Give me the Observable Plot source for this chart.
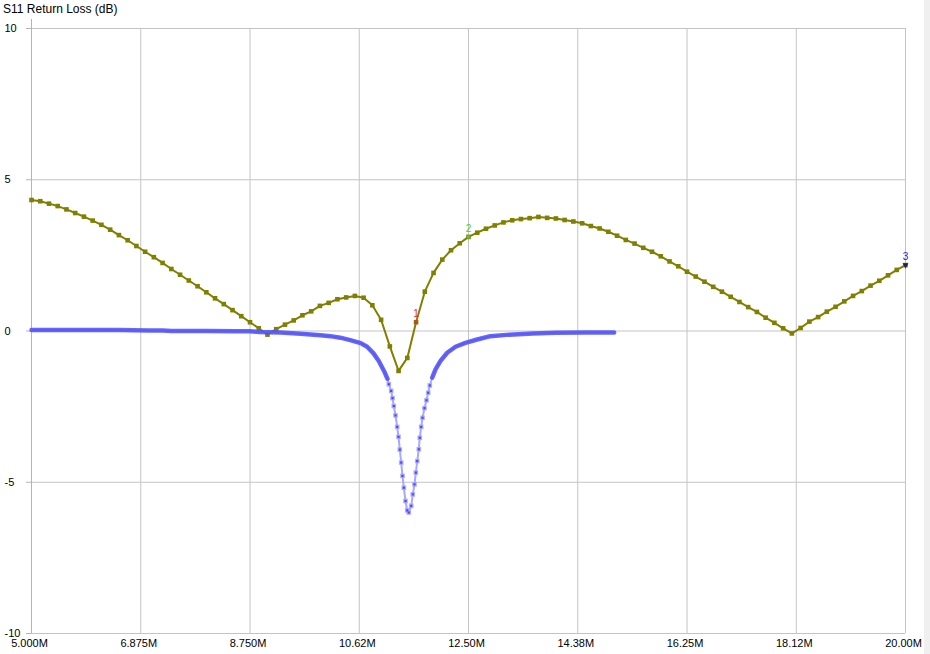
<!DOCTYPE html>
<html><head><meta charset="utf-8">
<script src="https://cdn.jsdelivr.net/npm/d3@7"></script>
<script src="https://cdn.jsdelivr.net/npm/@observablehq/plot@0.6"></script>
<style>
body{margin:0;background:#fff;}
#wrap{position:relative;width:930px;height:654px;overflow:hidden;background:#fff;}
#title{position:absolute;left:3px;top:2px;font:12px "Liberation Sans",Arial,sans-serif;color:#000;z-index:2;}
#strip{position:absolute;left:924px;top:0;width:6px;height:654px;background:#f0f0f0;z-index:2;}
#chart{position:absolute;left:0;top:0;}
</style></head><body>
<div id="wrap"><div id="chart"></div><div id="title">S11 Return Loss (dB)</div><div id="strip"></div></div>
<script>
// Olive trace: 101 sweep points, 5 MHz to 20 MHz in 0.15 MHz steps
const sweepStart = 5, sweepStep = 0.15;
const oliveValues = [
  4.33, 4.29, 4.21, 4.13, 4.02, 3.90, 3.78, 3.65, 3.51, 3.35,
  3.17, 3.00, 2.81, 2.62, 2.44, 2.25, 2.05, 1.86, 1.67, 1.48,
  1.28, 1.08, 0.89, 0.69, 0.49, 0.29, 0.09, -0.12, 0.06, 0.21,
  0.35, 0.52, 0.65, 0.83, 0.93, 1.05, 1.11, 1.16, 1.10, 0.85,
  0.37, -0.51, -1.32, -0.89, 0.29, 1.30, 1.92, 2.36, 2.67, 2.90,
  3.11, 3.25, 3.38, 3.49, 3.59, 3.66, 3.70, 3.73, 3.77, 3.74,
  3.72, 3.67, 3.62, 3.56, 3.47, 3.39, 3.28, 3.15, 3.01, 2.89,
  2.75, 2.62, 2.47, 2.30, 2.14, 1.96, 1.80, 1.63, 1.46, 1.30,
  1.13, 0.96, 0.79, 0.63, 0.44, 0.27, 0.09, -0.08, 0.10, 0.31,
  0.46, 0.64, 0.80, 0.98, 1.16, 1.32, 1.50, 1.66, 1.84, 2.02,
  2.18
];
// Blue trace (MHz, dB)
const blueFreq = [
  5.0, 5.5, 6.0, 6.5, 7.0, 7.25, 7.4, 8.0, 8.5, 8.75, 8.9, 9.27, 9.62, 9.96, 10.13, 10.30,
  10.47, 10.65, 10.76, 10.87, 10.96, 11.05, 11.11,
  11.132, 11.173, 11.196, 11.218, 11.247, 11.276, 11.299, 11.321, 11.345, 11.367, 11.390,
  11.419, 11.448, 11.475, 11.517, 11.544, 11.573, 11.596, 11.620, 11.647, 11.664, 11.688,
  11.711, 11.745, 11.779, 11.808, 11.836, 11.877, 11.934, 12.02, 12.134, 12.277, 12.448,
  12.649, 12.877, 13.2, 13.6, 14.0, 14.5, 15.0
];
const blueValues = [
  0.03, 0.03, 0.03, 0.03, 0.02, 0.02, 0.00, 0.00, -0.01, -0.01, -0.03, -0.05, -0.09, -0.14, -0.17, -0.22,
  -0.30, -0.40, -0.52, -0.74, -0.99, -1.32, -1.58,
  -1.76, -1.98, -2.22, -2.48, -2.79, -3.17, -3.50, -3.92, -4.35, -4.79, -5.18,
  -5.62, -5.93, -6.00, -5.78, -5.40, -5.07, -4.68, -4.30, -3.91, -3.53, -3.17,
  -2.87, -2.55, -2.29, -2.04, -1.80, -1.54, -1.27, -0.99, -0.72, -0.52, -0.39,
  -0.28, -0.17, -0.12, -0.08, -0.06, -0.05, -0.05
];
const xTicks = [5, 6.875, 8.75, 10.625, 12.5, 14.375, 16.25, 18.125, 20];
const xTickLabels = ["5.000M", "6.875M", "8.750M", "10.62M", "12.50M", "14.38M", "16.25M", "18.12M", "20.00M"];
const yTicks = [-10, -5, 0, 5, 10];
const yTickLabels = ["-10", "-5", "0", "5", "10"];
const markerIndex = [44, 50, 100];
const markerNames = ["1", "2", "3"];
const markerColors = ["#e03030", "#40d040", "#2020d0"];

const olive = oliveValues.map((v, i) => ({f: sweepStart + sweepStep * i, v}));
const blue = blueFreq.map((f, i) => ({f, v: blueValues[i]}));
const markers = markerIndex.map((idx, k) => ({f: olive[idx].f, v: olive[idx].v, name: markerNames[k], color: markerColors[k]}));
const yLab = yTicks.map((t, i) => ({t, s: yTickLabels[i]}));
const font = '"Liberation Sans", Arial, sans-serif';
const dip = blue.filter(d => d.v <= -1.6);

const chart = Plot.plot({
  width: 930, height: 654,
  marginLeft: 31, marginRight: 25, marginTop: 28, marginBottom: 21,
  style: {background: "transparent", fontFamily: font, fontSize: "11px", color: "#000"},
  x: {domain: [5, 20], type: "linear", label: null},
  y: {domain: [-10, 10], label: null},
  marks: [
    Plot.gridX(xTicks, {stroke: "#c4c4c4", strokeOpacity: 1}),
    Plot.gridY(yTicks, {stroke: "#c4c4c4", strokeOpacity: 1}),
    Plot.ruleX([5], {stroke: "#b4b4b4", insetTop: -9}),
    Plot.axisY(yTicks, {tickSize: 5, tickFormat: () => "", stroke: "#b4b4b4", label: null}),
    Plot.axisX(xTicks, {tickSize: 0, tickPadding: 6, dx: -2, label: null, tickFormat: d => xTickLabels[xTicks.indexOf(d)], fontSize: 11, fill: "#000"}),
    Plot.text(yLab, {y: "t", text: "s", frameAnchor: "left", textAnchor: "start", dx: -27, fontSize: 11, fill: "#000"}),
    // olive trace
    Plot.line(olive, {x: "f", y: "v", stroke: "#808000", strokeWidth: 2}),
    Plot.dot(olive, {x: "f", y: "v", symbol: "square", r: 2.6, fill: "#808000", stroke: "none"}),
    // blue trace
    Plot.line(blue, {x: "f", y: "v", stroke: "#a8a8ff", strokeWidth: 2}),
    Plot.line(blue, {x: "f", y: d => d.v > -1.7 ? d.v : NaN, stroke: "#4e4ef8", strokeWidth: 4.5, strokeOpacity: 0.85}),
    Plot.dot(dip, {x: "f", y: "v", symbol: "square", r: 2.6, fill: "#a4a4ff", fillOpacity: 0.9, stroke: "none"}),
    Plot.dot(dip, {x: "f", y: "v", symbol: "square", r: 1.2, fill: "#4848e8", stroke: "none"}),
    // markers
    Plot.dot(markers.slice(0, 2), {x: "f", y: "v", symbol: "square", r: 1.8, fill: "color", stroke: "none"}),
    Plot.dot(markers.slice(2), {x: "f", y: "v", symbol: "triangle", rotate: 180, r: 2.2, fill: "#202060", stroke: "none"}),
    Plot.text(markers, {x: "f", y: "v", text: "name", fill: "color", dy: -8, fontSize: 10})
  ]
});
document.getElementById("chart").appendChild(chart);
</script>
</body></html>
